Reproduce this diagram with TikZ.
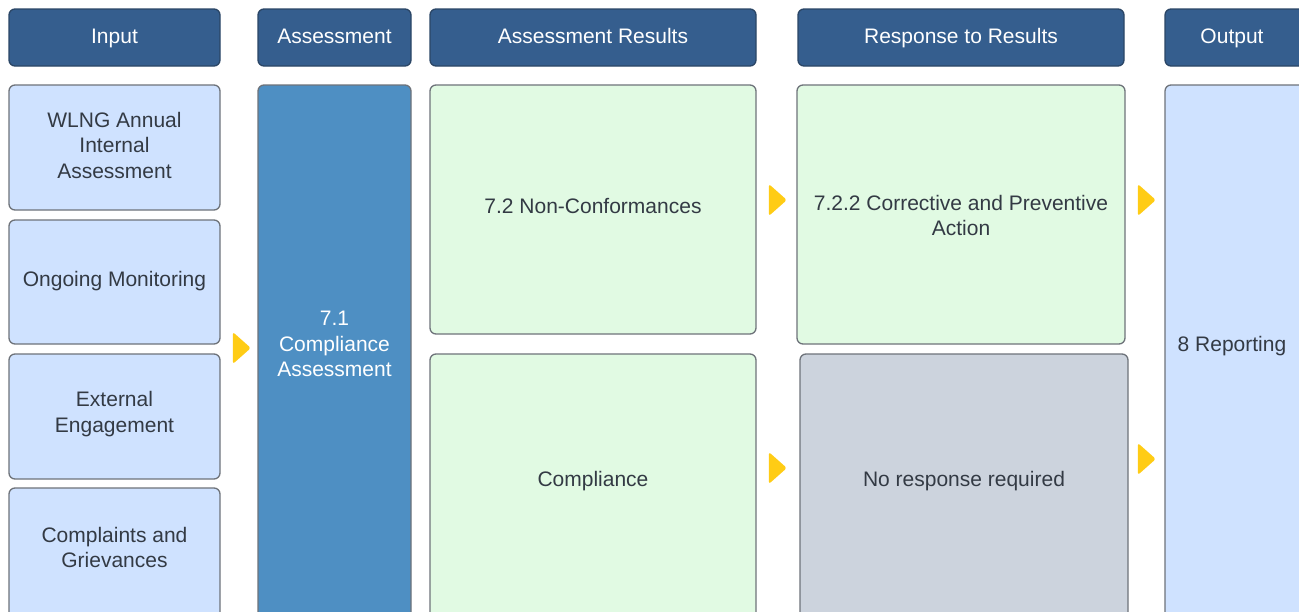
\documentclass[tikz,border=0pt]{standalone}
\usepackage{fontspec}
\setmainfont{Liberation Sans}
\usetikzlibrary{shapes.geometric}
\definecolor{hdrfill}{HTML}{355E8E}
\definecolor{hdrline}{HTML}{2B4666}
\definecolor{lblue}{HTML}{CFE2FF}
\definecolor{mblue}{HTML}{4E8FC3}
\definecolor{lgreen}{HTML}{E1FAE3}
\definecolor{lgray}{HTML}{CCD3DD}
\definecolor{tri}{HTML}{FFCC15}
\definecolor{bord}{HTML}{6E737A}
\definecolor{txt}{HTML}{333A44}
\tikzset{
  basebox/.style={rectangle, rounded corners=6pt, line width=1.3pt, inner sep=0pt, align=center,
    font=\fontsize{21}{25.5}\selectfont},
  oneline/.style={text height=15pt, text depth=3pt},
  hdr/.style={basebox, oneline, fill=hdrfill, draw=hdrline, text=white},
  inbox/.style={basebox, fill=lblue, draw=bord, text=txt},
  asbox/.style={basebox, fill=mblue, draw=bord, text=white},
  grbox/.style={basebox, fill=lgreen, draw=bord, text=txt},
  gybox/.style={basebox, fill=lgray, draw=bord, text=txt},
  lbl/.style={align=center, inner sep=0pt, font=\fontsize{21}{25.5}\selectfont},
  arrowtri/.style={isosceles triangle, isosceles triangle stretches, shape border rotate=0,
    fill=tri, draw=none, rounded corners=2.5pt, minimum height=18pt, minimum width=32pt, inner sep=0pt}
}
\begin{document}
\begin{tikzpicture}[x=1pt,y=-1pt]
\useasboundingbox (0,0) rectangle (1299,611);
\clip (0,0) rectangle (1299,611);
\fill[white] (0,0) rectangle (1299,611);
% headers
\node[hdr, minimum width=211pt, minimum height=57pt] (hIn) at (114.5,37.5) {Input};
\node[hdr, minimum width=153pt, minimum height=57pt] (hAs) at (334.5,37.5) {Assessment};
\node[hdr, minimum width=326pt, minimum height=57pt] (hRe) at (593,37.5) {Assessment Results};
\node[hdr, minimum width=326pt, minimum height=57pt] (hRs) at (961,37.5) {Response to Results};
\node[hdr, minimum width=150pt, minimum height=57pt] (hOut) at (1240,37.5) {};
\node[lbl, oneline, text=white] (hOutt) at (1232,37.5) {Output};
% input column
\node[inbox, minimum width=211pt, minimum height=125pt] (in1) at (114.5,147.5) {};
\node[lbl, text=txt] (in1t) at (114.5,145) {WLNG Annual\\Internal\\Assessment};
\node[inbox, minimum width=211pt, minimum height=124pt] (in2) at (114.5,282) {};
\node[lbl, oneline, text=txt] (in2t) at (114.5,280.5) {Ongoing Monitoring};
\node[inbox, minimum width=211pt, minimum height=125pt] (in3) at (114.5,416.5) {};
\node[lbl, text=txt] (in3t) at (114.5,414) {External\\Engagement};
\node[inbox, minimum width=211pt, minimum height=132pt] (in4) at (114.5,554) {};
\node[lbl, text=txt] (in4t) at (114.5,547.5) {Complaints and\\Grievances};
% assessment column
\node[asbox, minimum width=153pt, minimum height=535pt] (as) at (334.5,352.5) {};
\node[lbl, text=white] (ast) at (334.5,344) {7.1\\Compliance\\Assessment};
% results column
\node[grbox, minimum width=326pt, minimum height=249pt] (nc) at (593,209.5) {};
\node[lbl, oneline, text=txt] (nct) at (593,207.5) {7.2 Non-Conformances};
\node[grbox, minimum width=326pt, minimum height=266pt] (co) at (593,487) {};
\node[lbl, oneline, text=txt] (cot) at (593,480.5) {Compliance};
% response column
\node[grbox, minimum width=328pt, minimum height=259pt] (ca) at (961,214.5) {};
\node[lbl, text=txt] (cat) at (961,215.5) {7.2.2 Corrective and Preventive\\Action};
\node[gybox, minimum width=328pt, minimum height=266pt] (nr) at (964,487) {};
\node[lbl, oneline, text=txt] (nrt) at (964,480.5) {No response required};
% output column
\node[inbox, minimum width=150pt, minimum height=535pt] (out) at (1240,352.5) {};
\node[lbl, oneline, text=txt] (outt) at (1232,345.5) {8 Reporting};
% arrows
\node[arrowtri] (a1) at (240,348) {};
\node[arrowtri] (a2) at (776,200) {};
\node[arrowtri] (a3) at (776,468) {};
\node[arrowtri] (a4) at (1145,200) {};
\node[arrowtri] (a5) at (1145,459) {};
\end{tikzpicture}
\end{document}
